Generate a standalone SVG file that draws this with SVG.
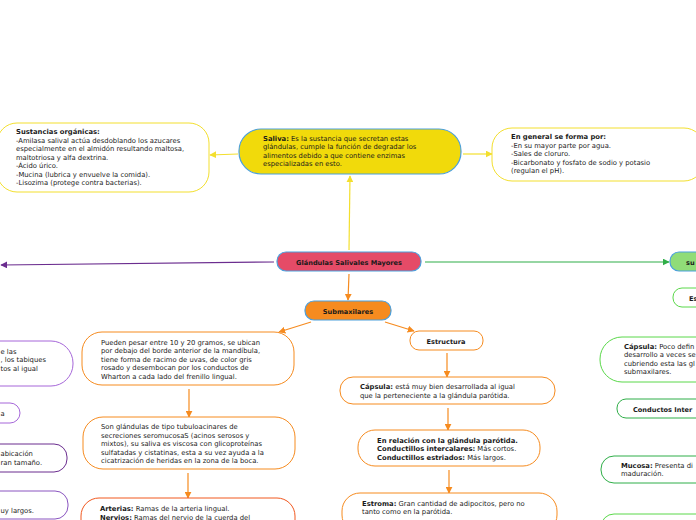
<svg xmlns="http://www.w3.org/2000/svg" width="696" height="520" viewBox="0 0 696 520">
<defs>
<style>
text{font-family:"DejaVu Sans","Verdana",sans-serif;font-size:6.8px;fill:#1a1a1a}
.b{font-weight:bold}
.h{font-weight:bold;font-size:6.6px}
.box{fill:#fff;stroke-width:1}
.yel{stroke:#f3df2e}
.org{stroke:#f68b1f}
.red{stroke:#f1581f}
.grn{stroke:#5ad84a}
.grd{stroke:#2fae48}
.pl{stroke:#a667d9}
.pd{stroke:#6b2d8f}
.pm{stroke:#8a55c0}
.main{stroke:#4a9fdc;stroke-width:1.2}
.c{fill:none;stroke-width:1.2}
</style>
<marker id="ay" viewBox="0 0 10 10" refX="9" refY="5" markerWidth="7" markerHeight="7" orient="auto" markerUnits="userSpaceOnUse"><path d="M0,0L10,5L0,10z" fill="#f3df2e"/></marker>
<marker id="ao" viewBox="0 0 10 10" refX="9" refY="5" markerWidth="7" markerHeight="7" orient="auto" markerUnits="userSpaceOnUse"><path d="M0,0L10,5L0,10z" fill="#f68b1f"/></marker>
<marker id="ag" viewBox="0 0 10 10" refX="9" refY="5" markerWidth="7" markerHeight="7" orient="auto" markerUnits="userSpaceOnUse"><path d="M0,0L10,5L0,10z" fill="#2fae48"/></marker>
<marker id="ap" viewBox="0 0 10 10" refX="9" refY="5" markerWidth="7" markerHeight="7" orient="auto" markerUnits="userSpaceOnUse"><path d="M0,0L10,5L0,10z" fill="#6b2d8f"/></marker>
</defs>
<rect width="696" height="520" fill="#fff"/>
<g id="connectors">
<path class="c" stroke="#f3df2e" d="M349,250L350,176" marker-end="url(#ay)"/>
<path class="c" stroke="#f3df2e" d="M238,154L210,155" marker-end="url(#ay)"/>
<path class="c" stroke="#f3df2e" d="M463,154L492,154" marker-end="url(#ay)"/>
<path class="c" stroke="#6b2d8f" d="M274,262L1,265" marker-end="url(#ap)"/>
<path class="c" stroke="#2fae48" d="M425,262L669,262" marker-end="url(#ag)"/>
<path class="c" stroke="#f68b1f" d="M349,274L348,300" marker-end="url(#ao)"/>
<path class="c" stroke="#f68b1f" d="M311,322L279,332" marker-end="url(#ao)"/>
<path class="c" stroke="#f68b1f" d="M385,322L414,331" marker-end="url(#ao)"/>
<path class="c" stroke="#f68b1f" d="M189,389L189,417" marker-end="url(#ao)"/>
<path class="c" stroke="#f68b1f" d="M188,473L188,498" marker-end="url(#ao)"/>
<path class="c" stroke="#f68b1f" d="M447,353L447,377" marker-end="url(#ao)"/>
<path class="c" stroke="#f68b1f" d="M448,408L448,430" marker-end="url(#ao)"/>
<path class="c" stroke="#f68b1f" d="M449,470L449,493" marker-end="url(#ao)"/>
</g>
<g id="sustancias">
<rect class="box yel" x="-3" y="123" width="212" height="69" rx="20"/>
<text x="16" y="134"><tspan class="b">Sustancias orgánicas:</tspan><tspan x="16" dy="8.5">-Amilasa salival actúa desdoblando los azucares</tspan><tspan x="16" dy="8.5">especialmente en el almidón resultando maltosa,</tspan><tspan x="16" dy="8.5">maltotriosa y alfa dextrina.</tspan><tspan x="16" dy="8.5">-Ácido úrico.</tspan><tspan x="16" dy="8.5">-Mucina (lubrica y envuelve la comida).</tspan><tspan x="16" dy="8.5">-Lisozima (protege contra bacterias).</tspan></text>
</g>
<g id="saliva">
<rect class="main" fill="#f1da0b" x="239" y="129" width="222" height="45" rx="22"/>
<text x="263" y="141"><tspan class="b">Saliva:</tspan> Es la sustancia que secretan estas<tspan x="263" dy="8.4">glándulas, cumple la función de degradar los</tspan><tspan x="263" dy="8.4">alimentos debido a que contiene enzimas</tspan><tspan x="263" dy="8.4">especializadas en esto.</tspan></text>
</g>
<g id="general">
<rect class="box yel" x="492" y="128" width="212" height="53" rx="20"/>
<text x="511" y="139"><tspan class="b">En general se forma por:</tspan><tspan x="511" dy="8.5">-En su mayor parte por agua.</tspan><tspan x="511" dy="8.5">-Sales de cloruro.</tspan><tspan x="511" dy="8.5">-Bicarbonato y fosfato de sodio y potasio</tspan><tspan x="511" dy="8.5">(regulan el pH).</tspan></text>
</g>
<g id="glandulas">
<rect class="main" fill="#e54b67" x="277" y="252" width="144" height="19" rx="9"/>
<text class="h" x="349" y="264.5" text-anchor="middle">Glándulas Salivales Mayores</text>
</g>
<g id="submaxilares">
<rect class="main" fill="#f68b1f" x="305" y="301" width="86" height="19" rx="9"/>
<text class="h" x="348" y="313.5" text-anchor="middle">Submaxilares</text>
</g>
<g id="sublinguales">
<rect class="main" fill="#90dc78" x="670" y="252" width="60" height="19" rx="9"/>
<text class="h" x="686" y="264.5">su</text>
</g>
<g id="estructura-sub">
<rect class="box grn" x="673" y="288" width="50" height="19" rx="9"/>
<text class="h" x="689" y="300.5">Es</text>
</g>
<g id="capsula-sub">
<rect class="box grn" x="600" y="337" width="120" height="45" rx="22"/>
<text x="624" y="349"><tspan class="b">Cápsula:</tspan> Poco defin<tspan x="624" dy="8.4">desarrollo a veces se</tspan><tspan x="624" dy="8.4">cubriendo esta las gl</tspan><tspan x="624" dy="8.4">submaxilares.</tspan></text>
</g>
<g id="conductos-sub">
<rect class="box grd" x="617" y="399" width="100" height="19" rx="9"/>
<text class="h" x="633" y="411.5">Conductos Inter</text>
</g>
<g id="mucosa-sub">
<rect class="box grd" x="601" y="456" width="110" height="27" rx="13"/>
<text x="621" y="467.5"><tspan class="b">Mucosa:</tspan> Presenta di<tspan x="621" dy="8.5">maduración.</tspan></text>
</g>
<g id="green-bottom">
<rect class="box grn" x="601" y="514" width="110" height="27" rx="13"/>
</g>
<g id="purple1">
<rect class="box pl" x="-40" y="341" width="113" height="45" rx="22"/>
<text x="0.5" y="353.5">e las</text>
<text x="0.5" y="362">, los tabiques</text>
<text x="0.5" y="370.5">tos al igual</text>
</g>
<g id="purple2">
<rect class="box pl" x="-40" y="403" width="60" height="20" rx="10"/>
<text x="0.5" y="415.5">a</text>
</g>
<g id="purple3">
<rect class="box pd" x="-40" y="444" width="107" height="28" rx="13"/>
<text x="0.5" y="456">abicación</text>
<text x="0.5" y="465">ran tamaño.</text>
</g>
<g id="purple4">
<rect class="box pm" x="-40" y="491" width="108" height="28" rx="13"/>
<text x="0.5" y="513">uy largos.</text>
</g>
<g id="pueden">
<rect class="box org" x="82" y="332" width="212" height="53" rx="20"/>
<text x="101" y="344.5">Pueden pesar entre 10 y 20 gramos, se ubican<tspan x="101" dy="8.5">por debajo del borde anterior de la mandíbula,</tspan><tspan x="101" dy="8.5">tiene forma de racimo de uvas, de color gris</tspan><tspan x="101" dy="8.5">rosado y desembocan por los conductos de</tspan><tspan x="101" dy="8.5">Wharton a cada lado del frenillo lingual.</tspan></text>
</g>
<g id="tipo">
<rect class="box org" x="83" y="417" width="212" height="52" rx="20"/>
<text x="101" y="429">Son glándulas de tipo tubuloacinares de<tspan x="101" dy="8.5">secreciones seromucosaS (acinos serosos y</tspan><tspan x="101" dy="8.5">mixtos), su saliva es viscosa con glicoproteínas</tspan><tspan x="101" dy="8.5">sulfatadas y cistatinas, esta a su vez ayuda a la</tspan><tspan x="101" dy="8.5">cicatrización de heridas en la zona de la boca.</tspan></text>
</g>
<g id="arterias">
<rect class="box red" x="81" y="498" width="214" height="40" rx="18"/>
<text x="100" y="510.5"><tspan class="b">Arterias:</tspan> Ramas de la arteria lingual.<tspan x="100" dy="9"><tspan class="b">Nervios:</tspan> Ramas del nervio de la cuerda del</tspan></text>
</g>
<g id="estructura">
<rect class="box org" x="410" y="331" width="73" height="19" rx="9"/>
<text class="h" x="446" y="343.5" text-anchor="middle">Estructura</text>
</g>
<g id="capsula">
<rect class="box org" x="340" y="377" width="215" height="27" rx="13"/>
<text x="360" y="389"><tspan class="b">Cápsula:</tspan> está muy bien desarrollada al igual<tspan x="360" dy="8.5">que la perteneciente a la glándula parótida.</tspan></text>
</g>
<g id="relacion">
<rect class="box org" x="358" y="430" width="182" height="36" rx="17"/>
<text x="377" y="442.5"><tspan class="b">En relación con la glándula parótida.</tspan><tspan x="377" dy="8.5" class="b">Conductillos intercalares:</tspan> Más cortos.<tspan x="377" dy="8.5" class="b">Conductillos estriados:</tspan> Más largos.</text>
</g>
<g id="estroma">
<rect class="box org" x="342" y="493" width="215" height="40" rx="18"/>
<text x="362" y="505.5"><tspan class="b">Estroma:</tspan> Gran cantidad de adipocitos, pero no<tspan x="362" dy="8.5">tanto como en la parótida.</tspan></text>
</g>
</svg>
